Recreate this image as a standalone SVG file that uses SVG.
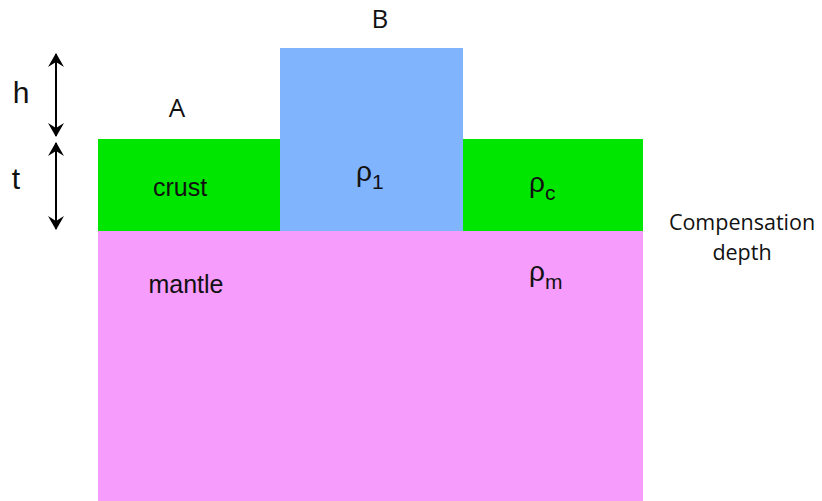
<svg xmlns="http://www.w3.org/2000/svg" width="822" height="501" viewBox="0 0 822 501">
<defs>
<marker id="ah" viewBox="0 0 14 16" refX="13" refY="8" markerWidth="14" markerHeight="16" markerUnits="userSpaceOnUse" orient="auto-start-reverse">
<path d="M0,0 L14,8 L0,16 L5,8 Z" fill="#000"/>
</marker>
<style>
.lbl{font-family:"Liberation Sans",Arial,sans-serif;fill:#111}
.cap{font-family:"Open Sans","Noto Sans",sans-serif;fill:#111}
.arr{stroke:#000;stroke-width:2;fill:none;marker-start:url(#ah);marker-end:url(#ah)}
</style>
</defs>
<rect width="822" height="501" fill="#fff"/>
<g id="mantle"><rect x="98" y="231" width="545" height="270" fill="#f59cfc"/>
<text class="lbl" x="186" y="293" font-size="25" text-anchor="middle">mantle</text>
<text class="lbl" x="529" y="281" font-size="28">ρ<tspan font-size="21" dy="8">m</tspan></text></g>
<g id="crust-left"><rect x="98" y="139" width="182" height="92" fill="#00e600"/>
<text class="lbl" x="180" y="196" font-size="25" text-anchor="middle">crust</text></g>
<g id="crust-right"><rect x="463" y="139" width="180" height="92" fill="#00e600"/>
<text class="lbl" x="529" y="192" font-size="28">ρ<tspan font-size="21" dy="8">c</tspan></text></g>
<g id="block"><rect x="280" y="48" width="183" height="183" fill="#80b4fc"/>
<text class="lbl" x="356" y="181" font-size="28">ρ<tspan font-size="21" dy="8">1</tspan></text></g>
<g id="labels">
<text class="cap" x="380" y="28" font-size="26" text-anchor="middle">B</text>
<text class="cap" x="177" y="117" font-size="26" text-anchor="middle">A</text>
<text class="lbl" x="21" y="103" font-size="30" text-anchor="middle">h</text>
<text class="lbl" x="16" y="189" font-size="30" text-anchor="middle">t</text>
<text class="cap" x="742" y="230" font-size="21.5" text-anchor="middle">Compensation</text>
<text class="cap" x="742" y="260" font-size="21.5" text-anchor="middle">depth</text>
</g>
<g id="connectors">
<line class="arr" x1="56" y1="54" x2="56" y2="136"/>
<line class="arr" x1="56" y1="143" x2="56" y2="229"/>
</g>
</svg>
